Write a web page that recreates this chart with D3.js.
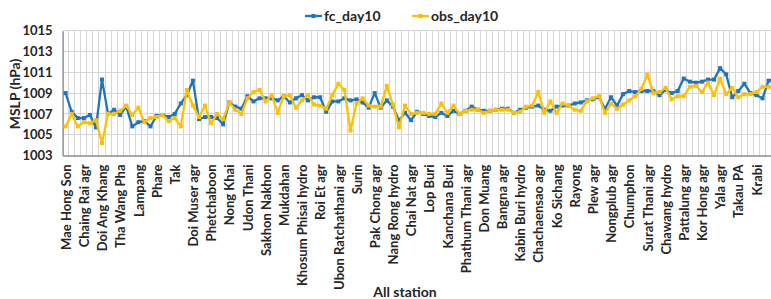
<!DOCTYPE html>
<html>
<head>
<meta charset="utf-8">
<script src="https://cdn.jsdelivr.net/npm/d3@7"></script>
<style>
	html, body { margin: 0; padding: 0; background: #fff; overflow: hidden; }
	svg { display: block; font-family: Lato, "Open Sans", sans-serif; }
</style>
</head>
<body>
<svg id="chart"></svg>
<script>

// station labels shown on the axis (every third station)
var stationLabels = ["Mae Hong Son", "Chaing Rai agr", "Doi Ang Khang", "Tha Wang Pha", "Lampang",
	"Phare", "Tak", "Doi Muser agr", "Phetchaboon", "Nong Khai", "Udon Thani", "Sakhon Nakhon",
	"Mukdahan", "Khosum Phisai hydro", "Roi Et agr", "Ubon Ratchathani agr", "Surin", "Pak Chong agr",
	"Nang Rong hydro", "Chai Nat agr", "Lop Buri", "Kanchana Buri", "Phathum Thani agr", "Don Muang",
	"Bangna agr", "Kabin Buri hydro", "Chachaensao agr", "Ko Sichang", "Rayong", "Plew agr",
	"Nongplub agr", "Chumphon", "Surat Thani agr", "Chawang hydro", "Pattalung agr", "Kor Hong agr",
	"Yala agr", "Takau PA", "Krabi"];

var labelEvery = 3;

var fcDay10 = [1009.0, 1007.2, 1006.6, 1006.6, 1006.9, 1005.7, 1010.3, 1007.0, 1007.4, 1006.9,
	1007.7, 1005.8, 1006.2, 1006.3, 1005.8, 1006.8, 1006.9, 1006.7, 1007.0, 1008.0,
	1008.8, 1010.2, 1006.5, 1006.7, 1006.7, 1006.6, 1006.0, 1008.1, 1007.7, 1007.5,
	1008.7, 1008.2, 1008.5, 1008.5, 1008.5, 1008.3, 1008.7, 1008.1, 1008.5, 1008.8,
	1008.3, 1008.6, 1008.6, 1007.2, 1008.2, 1008.2, 1008.5, 1008.3, 1008.4, 1008.1,
	1007.6, 1009.0, 1007.6, 1008.3, 1007.7, 1006.4, 1007.1, 1006.4, 1007.2, 1007.0,
	1006.8, 1006.7, 1007.1, 1006.8, 1007.3, 1007.0, 1007.3, 1007.7, 1007.4, 1007.3,
	1007.3, 1007.4, 1007.5, 1007.5, 1007.1, 1007.4, 1007.6, 1007.7, 1007.8, 1007.4,
	1007.3, 1007.7, 1007.8, 1007.8, 1008.0, 1008.1, 1008.3, 1008.4, 1008.6, 1007.5,
	1008.6, 1007.8, 1008.9, 1009.2, 1009.1, 1009.2, 1009.2, 1009.2, 1008.8, 1009.3,
	1009.0, 1009.2, 1010.4, 1010.1, 1010.0, 1010.1, 1010.3, 1010.3, 1011.4, 1010.8,
	1008.6, 1009.2, 1009.9, 1009.0, 1008.8, 1008.5, 1010.2, 1010.3];

var obsDay10 = [1005.8, 1007.0, 1005.8, 1006.2, 1006.1, 1006.4, 1004.2, 1007.0, 1007.0, 1007.3,
	1007.8, 1006.9, 1007.6, 1006.2, 1006.6, 1006.7, 1006.9, 1006.3, 1006.6, 1005.8,
	1009.3, 1007.8, 1006.7, 1007.8, 1006.1, 1007.0, 1006.5, 1008.1, 1007.4, 1007.0,
	1008.5, 1009.1, 1009.3, 1008.2, 1008.8, 1007.1, 1008.7, 1008.8, 1007.6, 1008.3,
	1008.8, 1007.9, 1007.8, 1007.5, 1008.8, 1009.9, 1009.3, 1005.4, 1008.0, 1008.5,
	1007.8, 1007.7, 1007.7, 1009.7, 1007.9, 1005.7, 1007.8, 1007.0, 1007.1, 1007.1,
	1007.0, 1007.0, 1008.0, 1007.1, 1007.8, 1007.0, 1007.3, 1007.4, 1007.4, 1007.1,
	1007.3, 1007.4, 1007.4, 1007.4, 1007.1, 1007.2, 1007.7, 1007.8, 1009.1, 1007.1,
	1008.2, 1007.1, 1008.0, 1007.8, 1007.4, 1007.3, 1008.2, 1008.5, 1008.7, 1007.1,
	1008.0, 1007.5, 1007.9, 1008.3, 1008.7, 1009.4, 1010.8, 1009.0, 1009.1, 1009.5,
	1008.4, 1008.7, 1008.7, 1009.6, 1009.7, 1009.1, 1010.0, 1008.8, 1010.4, 1008.9,
	1009.5, 1008.6, 1008.9, 1008.9, 1009.1, 1009.6, 1009.6, 1009.6];

var yTicks = [1003, 1005, 1007, 1009, 1011, 1013, 1015];

var seriesNames = ["fc_day10", "obs_day10"];
var seriesColors = ["#1f74bf", "#ffc000"];

var width = 790,
	height = 299;

var margin = { left: 62.6, top: 30.7, bottom: 143.5 };
var step = 6.06;
var n = fcDay10.length;

var svg = d3.select("#chart")
	.attr("width", width)
	.attr("height", height);

var x = d3.scaleLinear()
	.domain([-0.5, n - 0.5])
	.range([margin.left, margin.left + n * step]);

var y = d3.scaleLinear()
	.domain([1003, 1015])
	.range([height - margin.bottom, margin.top]);

var plotRight = x(n - 0.5);

// vertical gridlines, one per category boundary
svg.append("g")
	.selectAll("line")
	.data(d3.range(1, n))
	.enter().append("line")
	.attr("x1", function(d) { return x(d - 0.5); })
	.attr("x2", function(d) { return x(d - 0.5); })
	.attr("y1", y(1003))
	.attr("y2", y(1015))
	.style("stroke", "#d6d6d6")
	.style("stroke-width", 1)
	.style("shape-rendering", "crispEdges");

// horizontal gridlines
svg.append("g")
	.selectAll("line")
	.data(yTicks.slice(1))
	.enter().append("line")
	.attr("x1", margin.left)
	.attr("x2", plotRight)
	.attr("y1", function(d) { return y(d); })
	.attr("y2", function(d) { return y(d); })
	.style("stroke", "#d6d6d6")
	.style("stroke-width", 1)
	.style("shape-rendering", "crispEdges");

// y axis
var yAxis = d3.axisLeft(y).tickValues(yTicks).tickSize(0).tickPadding(10).tickFormat(d3.format("d"));

svg.append("g")
	.attr("class", "y axis")
	.attr("transform", "translate(" + margin.left + ",0)")
	.call(yAxis)
	.call(function(g) {
		g.select(".domain").style("stroke", "#7f7f7f").style("stroke-width", 1.3);
		g.selectAll("text")
			.style("font-size", "13px")
			.style("font-weight", "bold")
			.style("fill", "#262626")
			.style("font-family", "Lato, sans-serif");
	});

// x axis, label every third station
var xAxis = d3.axisBottom(x)
	.tickValues(d3.range(0, stationLabels.length * labelEvery, labelEvery))
	.tickSize(0)
	.tickFormat(function(d) { return stationLabels[d / labelEvery]; });

svg.append("g")
	.attr("class", "x axis")
	.attr("transform", "translate(0," + y(1003) + ")")
	.call(xAxis)
	.call(function(g) {
		g.select(".domain").style("stroke", "#8c8c8c").style("stroke-width", 1.3);
		g.selectAll("text")
			.attr("transform", "rotate(-90)")
			.attr("x", -9)
			.attr("y", 0)
			.attr("dy", "0.36em")
			.style("text-anchor", "end")
			.style("font-size", "13px")
			.style("font-weight", "bold")
			.style("fill", "#262626")
			.style("font-family", "Lato, sans-serif");
	});

// series lines and markers
var series = [fcDay10, obsDay10];

var line = d3.line()
	.x(function(d, i) { return x(i); })
	.y(function(d) { return y(d); });

series.forEach(function(values, s) {
	var g = svg.append("g").attr("class", "series");
	g.append("path")
		.attr("d", line(values))
		.style("fill", "none")
		.style("stroke", seriesColors[s])
		.style("stroke-width", 2.3)
		.style("stroke-linejoin", "round");
	g.selectAll("rect")
		.data(values)
		.enter().append("rect")
		.attr("x", function(d, i) { return x(i) - 2; })
		.attr("y", function(d) { return y(d) - 2; })
		.attr("width", 4)
		.attr("height", 4)
		.style("fill", seriesColors[s]);
});

// axis titles
svg.append("text")
	.attr("transform", "translate(20," + 94 + ") rotate(-90)")
	.style("text-anchor", "middle")
	.style("font-size", "14px")
	.style("font-weight", "bold")
	.style("fill", "#262626")
	.text("MSLP (hPa)");

svg.append("text")
	.attr("x", 405)
	.attr("y", 297)
	.style("text-anchor", "middle")
	.style("font-size", "14px")
	.style("font-weight", "bold")
	.style("fill", "#262626")
	.text("All station");

// legend
var legendX = [305, 412];
var legend = svg.selectAll("g.legend")
	.data(seriesNames)
	.enter().append("g")
	.attr("class", "legend")
	.attr("transform", function(d, i) { return "translate(" + legendX[i] + ",16)"; });

legend.append("line")
	.attr("x1", 0).attr("x2", 17)
	.style("stroke", function(d, i) { return seriesColors[i]; })
	.style("stroke-width", 2.3);

legend.append("rect")
	.attr("x", 6.5).attr("y", -2).attr("width", 4).attr("height", 4)
	.style("fill", function(d, i) { return seriesColors[i]; });

legend.append("text")
	.attr("x", 19)
	.attr("dy", "0.35em")
	.style("font-size", "14px")
	.style("font-weight", "bold")
	.style("fill", "#262626")
	.text(function(d) { return d; });

</script>
</body>
</html>
